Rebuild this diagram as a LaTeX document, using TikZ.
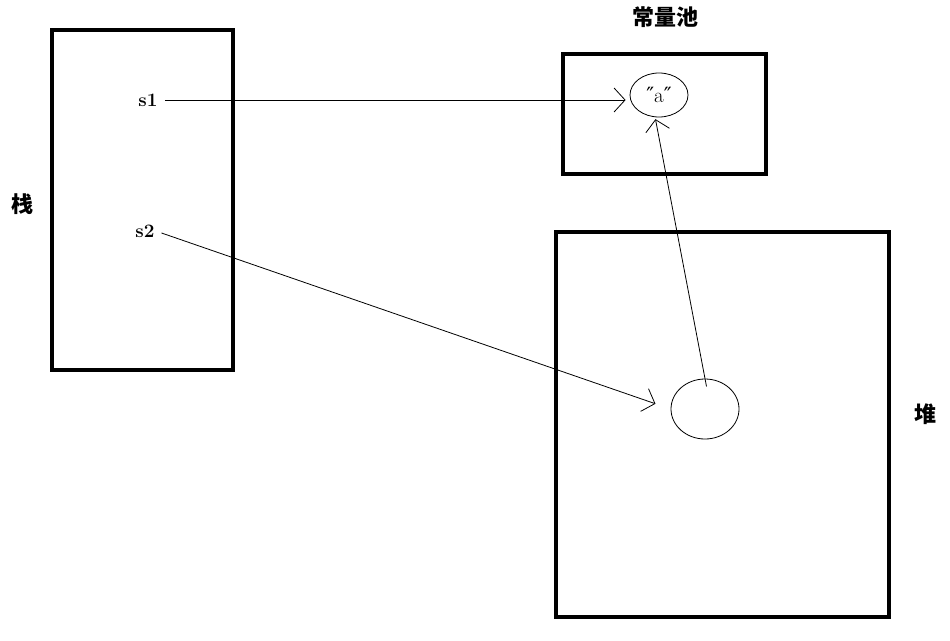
\documentclass[tikz,border=0pt]{standalone}
\usepackage{fontspec}
\newfontfamily\cjk{Noto Sans CJK SC Black}
\newfontfamily\symb{DejaVu Sans}
\usetikzlibrary{arrows.meta, shapes.geometric}

\begin{document}
\begin{tikzpicture}[x=1pt, y=-1pt,
  area/.style={draw, line width=4pt},
  obj/.style={draw, ellipse, line width=0.8pt, inner sep=0pt},
  lbl/.style={font=\cjk\fontsize{22}{22}\selectfont},
  var/.style={font=\bfseries\fontsize{19}{19}\selectfont, inner sep=1pt},
  arr/.style={-{Straight Barb[length=11pt, width=24pt]}, line width=0.8pt}]
\useasboundingbox (0,0) rectangle (950,640);
% memory areas
\draw[area] (52,30) rectangle (233,370);
\draw[area] (563,54) rectangle (766,174);
\draw[area] (556,232) rectangle (889,617);
\node[lbl] (stack) at (22,204) {栈};
\node[lbl] (pool) at (665,17) {常量池};
\node[lbl] (heap) at (925,414) {堆};
% objects
\node[obj, minimum width=58pt, minimum height=44pt, font=\fontsize{21}{21}\selectfont] (a) at (659,95) {{\symb ″}a{\symb ″}};
\node[obj, minimum width=68pt, minimum height=60pt] (obj) at (705,409) {};
% references
\node[var] (s1) at (148,100) {s1};
\node[var] (s2) at (145,231) {s2};
\draw[arr, shorten <=6pt, shorten >=4pt] (s1.east) -- (s1.east -| a.west);
\draw[arr, shorten <=6pt, shorten >=16pt] (s2.east) -- (obj.west);
\draw[arr, shorten <=-8pt, shorten >=2pt] (obj.north) -- (a.-100);
\end{tikzpicture}
\end{document}
